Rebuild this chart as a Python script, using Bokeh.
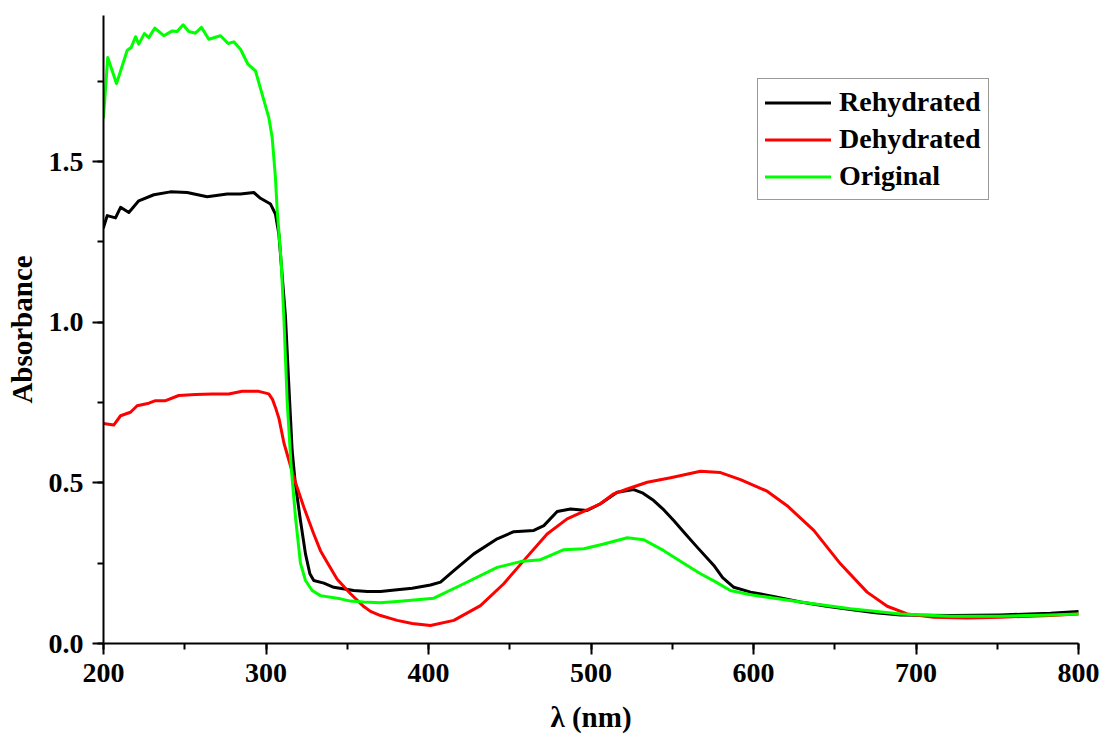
from bokeh.plotting import figure
from bokeh.models import Range1d, Legend, LegendItem, SingleIntervalTicker, CustomJSTickFormatter
from bokeh.embed import file_html
from bokeh.resources import INLINE

# ---- data ----
rehyd_x = [200, 202.3, 207.4, 210.5, 215.6, 221.7, 231, 241.2, 251.5, 263.8, 276.1, 284.3,
           292.5, 296.6, 302.8, 305.8, 307.9, 308.9, 310.5, 312, 314, 316.1, 318, 319.5,
           321.2, 324.3, 327, 329.4, 335.6, 341.7, 354, 362.3, 370.5, 380.7, 390, 401.2,
           407.4, 415.6, 427.9, 442.3, 452.5, 464.8, 471, 479.2, 487.4, 497.6, 505.8,
           516.1, 526.3, 532, 538.6, 545, 550.9, 558, 565.3, 575.6, 581, 587.9, 598.2,
           613, 628.9, 645, 659.7, 675, 690.5, 721.2, 752, 782.8, 800]
rehyd_y = [1.295, 1.332, 1.325, 1.358, 1.342, 1.378, 1.397, 1.406, 1.404, 1.391, 1.399, 1.399,
           1.404, 1.386, 1.368, 1.337, 1.275, 1.212, 1.11, 1.015, 0.808, 0.600, 0.50, 0.445,
           0.383, 0.279, 0.217, 0.196, 0.188, 0.175, 0.165, 0.162, 0.162, 0.167, 0.172, 0.182,
           0.191, 0.227, 0.279, 0.326, 0.348, 0.352, 0.367, 0.411, 0.419, 0.414, 0.435,
           0.471, 0.479, 0.468, 0.445, 0.415, 0.383, 0.342, 0.3, 0.243, 0.205, 0.175, 0.16,
           0.146, 0.129, 0.116, 0.106, 0.096, 0.089, 0.087, 0.089, 0.094, 0.1]

dehyd_x = [200, 206.3, 210.5, 216.6, 220.7, 227.9, 232, 238.2, 246.3, 256.6, 266.9, 277.1,
           285.3, 295.6, 301.7, 304, 305.8, 308, 311, 317.1, 323.3, 326.3, 329.4, 333.5,
           337.7, 343.8, 352, 360.2, 364.3, 370.5, 380.7, 390, 401.2, 415.6, 432, 446.3,
           458.6, 473, 485.3, 497.6, 505.8, 514, 522.3, 534.6, 549, 567.4, 579.7, 592,
           608.4, 620.7, 637.1, 653.5, 669.9, 682.3, 694.6, 711, 731.5, 752, 782.8, 800]
dehyd_y = [0.685, 0.680, 0.709, 0.72, 0.74, 0.748, 0.756, 0.756, 0.772, 0.775, 0.777, 0.777,
           0.785, 0.785, 0.777, 0.76, 0.735, 0.70, 0.625, 0.517, 0.424, 0.383, 0.341, 0.289,
           0.252, 0.2, 0.155, 0.115, 0.10, 0.087, 0.072, 0.062, 0.056, 0.072, 0.118, 0.186,
           0.258, 0.341, 0.388, 0.416, 0.435, 0.466, 0.481, 0.502, 0.516, 0.536, 0.532, 0.51,
           0.474, 0.429, 0.352, 0.248, 0.16, 0.116, 0.092, 0.082, 0.079, 0.082, 0.087, 0.092]

orig_x = [200, 202.6, 208, 211.5, 214.6, 217, 219.7, 221.7, 225.2, 227.9, 231.6, 237.1,
          242.3, 245.3, 249, 252.5, 256.6, 260.3, 264.8, 272, 276.7, 280.2, 284.3, 288.8,
          293.5, 297.6, 301.7, 303.8, 305.8, 306.9, 308.5, 309.3, 311, 313, 315.5, 318.2,
          321.2, 324.3, 328.4, 333.5, 345.8, 352, 360.2, 370, 380.7, 403.3, 421.7, 442.3,
          456.6, 468.9, 475.1, 483.3, 495.6, 507.9, 522.3, 532.5, 544.8, 559.2, 567.4,
          575.6, 585.8, 598.2, 628.9, 659.7, 690.5, 721.2, 752, 782.8, 800]
orig_y = [1.638, 1.824, 1.743, 1.798, 1.847, 1.855, 1.889, 1.866, 1.899, 1.886, 1.916, 1.892,
          1.907, 1.905, 1.926, 1.905, 1.9, 1.918, 1.881, 1.892, 1.868, 1.873, 1.85, 1.804,
          1.783, 1.71, 1.638, 1.575, 1.451, 1.347, 1.244, 1.192, 1.015, 0.756, 0.549, 0.39,
          0.25, 0.196, 0.165, 0.149, 0.139, 0.132, 0.129, 0.127, 0.131, 0.141, 0.186, 0.237,
          0.255, 0.261, 0.274, 0.292, 0.295, 0.31, 0.329, 0.323, 0.289, 0.243, 0.217,
          0.195, 0.165, 0.152, 0.129, 0.108, 0.092, 0.085, 0.085, 0.089, 0.092]

series_names = ["Rehydrated", "Dehydrated", "Original"]
series_colors = ["#000000", "#ff0000", "#00ff00"]

FONT = "Liberation Serif"

p = figure(width=1103, height=740, output_backend="svg", toolbar_location=None,
           x_range=Range1d(200, 800), y_range=Range1d(0, 1.955),
           min_border_left=103, min_border_right=25, min_border_top=15,
           min_border_bottom=97)
p.outline_line_color = None
p.xgrid.visible = False
p.ygrid.visible = False
p.background_fill_color = "white"
p.border_fill_color = "white"

p.xaxis.ticker = SingleIntervalTicker(interval=100, num_minor_ticks=2)
p.yaxis.ticker = SingleIntervalTicker(interval=0.5, num_minor_ticks=2)
p.yaxis.formatter = CustomJSTickFormatter(code="return tick.toFixed(1);")

for ax in (p.xaxis, p.yaxis):
    ax.axis_line_width = 2
    ax.axis_line_color = "black"
    ax.major_tick_line_width = 2
    ax.minor_tick_line_width = 2
    ax.major_tick_out = 11
    ax.major_tick_in = 0
    ax.minor_tick_out = 6
    ax.minor_tick_in = 0
    ax.major_label_text_font = FONT
    ax.major_label_text_font_style = "bold"
    ax.major_label_text_font_size = "28px"
    ax.major_label_text_color = "black"
    ax.axis_label_text_font = FONT
    ax.axis_label_text_font_style = "bold"
    ax.axis_label_text_font_size = "29px"
    ax.axis_label_text_color = "black"
    ax.major_label_standoff = 9

p.xaxis.axis_label = "λ (nm)"
p.yaxis.axis_label = "Absorbance"
p.xaxis.axis_label_standoff = 16
p.yaxis.axis_label_standoff = 8

renderers = []
for xs, ys, c in [(rehyd_x, rehyd_y, series_colors[0]),
                  (dehyd_x, dehyd_y, series_colors[1]),
                  (orig_x, orig_y, series_colors[2])]:
    r = p.line(xs, ys, line_color=c, line_width=3, line_join="round", line_cap="round")
    renderers.append(r)

legend = Legend(items=[LegendItem(label=n, renderers=[r]) for n, r in zip(series_names, renderers)],
                location=(654, 443), orientation="vertical")
legend.margin = 0
legend.padding = 7
legend.spacing = 5
legend.glyph_width = 66
legend.glyph_height = 31
legend.label_height = 31
legend.label_standoff = 8
legend.label_text_font = FONT
legend.label_text_font_style = "bold"
legend.label_text_font_size = "28px"
legend.label_text_color = "black"
legend.border_line_color = "#333333"
legend.border_line_width = 1.5
legend.background_fill_alpha = 1
p.add_layout(legend, "center")

open("out.html", "w").write(file_html(p, INLINE))
